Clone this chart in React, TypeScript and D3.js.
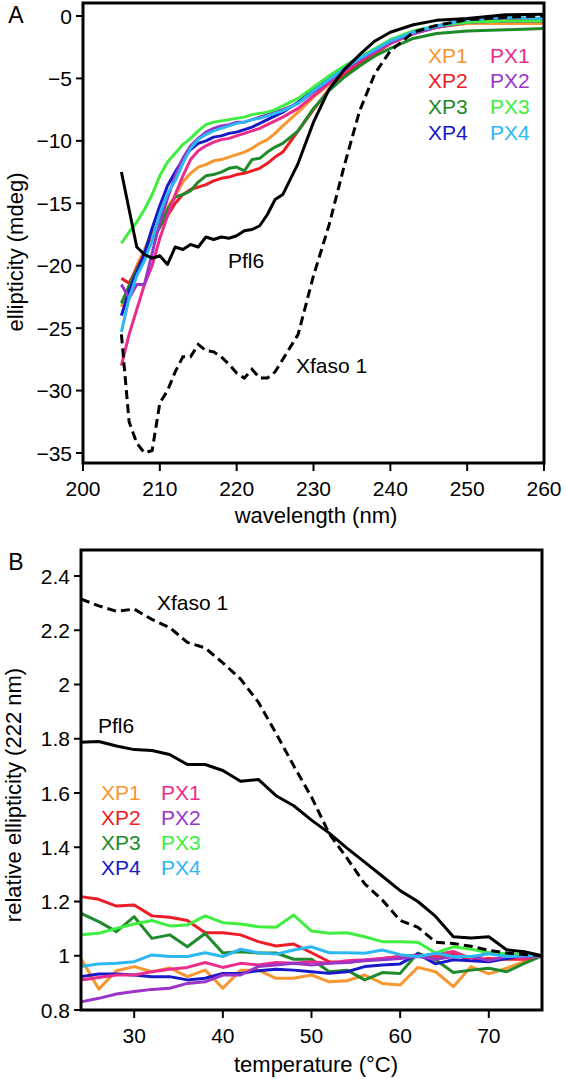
import React from "react";
import * as d3 from "d3";

// ---------- Panel A data: CD spectra ----------
const wavelengths = [205, 206, 207, 208, 209, 210, 211, 212, 213, 214, 215, 216, 217, 218, 219, 220, 221, 222, 223, 224, 225, 226, 228, 230, 232, 234, 236, 238, 240, 243, 246, 250, 255, 260];

const specXP1 = [-23.3, -21.8, -20.0, -18.7, -17.3, -16.3, -15.3, -14.4, -13.3, -12.6, -12.1, -11.9, -11.6, -11.5, -11.3, -11.1, -10.9, -10.6, -10.2, -9.9, -9.4, -8.8, -7.7, -6.5, -5.5, -4.6, -3.7, -2.9, -2.2, -1.4, -0.9, -0.6, -0.6, -0.6];
const specXP2 = [-21.0, -21.4, -20.2, -19.0, -17.9, -16.9, -16.0, -15.0, -14.3, -13.9, -13.7, -13.5, -13.2, -13.0, -12.9, -12.7, -12.6, -12.4, -12.2, -11.8, -11.3, -10.9, -9.2, -7.5, -5.9, -4.7, -3.8, -3.0, -2.2, -1.4, -0.9, -0.5, -0.4, -0.4];
const specXP3 = [-23.0, -21.6, -20.3, -19.2, -18.0, -16.9, -15.5, -14.5, -14.3, -14.0, -13.3, -12.8, -12.7, -12.5, -12.2, -12.1, -12.4, -11.5, -11.4, -10.9, -10.5, -10.2, -9.2, -7.4, -6.0, -4.9, -4.0, -3.2, -2.6, -1.8, -1.4, -1.2, -1.1, -1.0];
const specXP4 = [-24.0, -22.0, -20.5, -19.0, -17.0, -15.2, -13.6, -12.5, -11.5, -10.7, -10.2, -10.0, -9.7, -9.6, -9.4, -9.3, -9.1, -8.9, -8.6, -8.3, -8.0, -7.7, -6.9, -5.9, -5.0, -4.1, -3.3, -2.7, -2.0, -1.3, -0.8, -0.4, -0.2, -0.2];
const specPX1 = [-28.0, -25.5, -23.5, -21.5, -20.0, -17.8, -16.0, -14.3, -12.8, -11.5, -10.8, -10.4, -10.1, -9.9, -9.8, -9.6, -9.4, -9.2, -9.0, -8.7, -8.4, -8.1, -7.4, -6.4, -5.4, -4.5, -3.6, -2.9, -2.2, -1.4, -0.9, -0.5, -0.4, -0.4];
const specPX2 = [-21.5, -22.6, -21.5, -21.5, -19.0, -16.5, -14.6, -12.8, -11.4, -10.4, -9.8, -9.3, -9.0, -8.8, -8.7, -8.5, -8.5, -8.3, -8.1, -7.9, -7.7, -7.5, -7.0, -6.1, -5.2, -4.3, -3.5, -2.8, -2.1, -1.4, -0.9, -0.5, -0.4, -0.4];
const specPX3 = [-18.2, -17.3, -16.5, -15.5, -14.3, -12.8, -11.7, -11.0, -10.3, -9.8, -9.2, -8.7, -8.5, -8.4, -8.3, -8.2, -8.1, -7.9, -7.8, -7.7, -7.5, -7.2, -6.6, -5.7, -4.8, -4.0, -3.3, -2.6, -1.9, -1.2, -0.8, -0.5, -0.4, -0.4];
const specPX4 = [-25.3, -22.6, -20.8, -19.6, -18.0, -15.8, -14.2, -13.2, -11.8, -10.6, -9.9, -9.5, -9.2, -9.0, -8.8, -8.6, -8.5, -8.3, -8.2, -8.0, -7.8, -7.6, -7.0, -6.0, -5.1, -4.2, -3.4, -2.7, -2.0, -1.3, -0.8, -0.3, -0.1, -0.2];
const specPfl6 = [-12.5, -15.5, -18.5, -19.1, -19.4, -19.2, -19.9, -18.5, -18.7, -18.3, -18.5, -17.7, -17.9, -17.7, -17.8, -17.6, -17.2, -17.1, -16.8, -15.9, -14.7, -14.3, -11.8, -8.5, -5.9, -4.3, -3.1, -2.0, -1.3, -0.7, -0.35, -0.2, 0.1, 0.15];
const specXfaso1 = [-25.5, -32.5, -34.2, -35.0, -34.8, -31.0, -30.0, -28.5, -27.3, -27.3, -26.3, -26.8, -26.9, -27.3, -27.9, -28.6, -29.0, -28.3, -29.0, -29.0, -28.5, -27.5, -25.5, -20.8, -16.8, -12.0, -7.6, -4.6, -2.8, -1.3, -0.75, -0.3, -0.1, 0.0];

const wavelengthTicks = [200, 210, 220, 230, 240, 250, 260];
const ellipticityTicks = [0, -5, -10, -15, -20, -25, -30, -35];

// ---------- Panel B data: thermal melts ----------
const temperatures = [24, 26, 28, 30, 32, 34, 36, 38, 40, 42, 44, 46, 48, 50, 52, 54, 56, 58, 60, 62, 64, 66, 68, 70, 72, 74, 76];

const meltXP1 = [0.99, 0.877, 0.945, 0.96, 0.941, 0.955, 0.923, 0.947, 0.88, 0.947, 0.947, 0.917, 0.917, 0.929, 0.904, 0.908, 0.929, 0.898, 0.892, 0.957, 0.941, 0.886, 0.96, 0.933, 0.954, 0.978, 1.0];
const meltXP2 = [1.218, 1.208, 1.183, 1.187, 1.147, 1.142, 1.13, 1.085, 1.085, 1.077, 1.052, 1.036, 1.043, 1.011, 0.978, 0.975, 0.982, 0.99, 0.997, 1.003, 0.997, 1.006, 0.984, 0.99, 0.987, 0.987, 1.0];
const meltXP3 = [1.156, 1.126, 1.089, 1.144, 1.064, 1.077, 1.033, 1.082, 1.01, 1.015, 1.01, 1.01, 0.987, 0.987, 0.941, 0.947, 0.911, 0.938, 0.935, 1.01, 0.985, 0.938, 0.947, 0.954, 0.941, 0.972, 1.0];
const meltXP4 = [0.923, 0.933, 0.933, 0.929, 0.923, 0.923, 0.911, 0.917, 0.935, 0.935, 0.945, 0.95, 0.947, 0.941, 0.935, 0.941, 0.96, 0.966, 0.97, 1.007, 0.97, 0.985, 0.982, 0.978, 0.99, 0.997, 1.0];
const meltPX1 = [0.911, 0.92, 0.929, 0.929, 0.941, 0.95, 0.957, 0.975, 0.957, 0.972, 0.966, 0.975, 0.972, 0.978, 0.972, 0.982, 0.985, 0.99, 0.997, 1.0, 1.004, 1.016, 0.99, 1.01, 1.0, 0.99, 1.0];
const meltPX2 = [0.83, 0.843, 0.859, 0.868, 0.876, 0.88, 0.898, 0.904, 0.929, 0.929, 0.96, 0.966, 0.972, 0.966, 0.972, 0.975, 0.982, 0.985, 0.99, 0.997, 0.987, 0.997, 0.997, 0.982, 0.997, 0.997, 1.0];
const meltPX3 = [1.077, 1.083, 1.101, 1.117, 1.13, 1.11, 1.113, 1.147, 1.122, 1.117, 1.107, 1.105, 1.15, 1.091, 1.083, 1.085, 1.07, 1.052, 1.052, 1.05, 1.01, 1.033, 1.024, 1.012, 1.007, 1.004, 1.0];
const meltPX4 = [0.96, 0.97, 0.972, 0.978, 1.003, 0.997, 0.997, 1.011, 0.997, 1.024, 1.011, 1.006, 1.021, 1.033, 1.011, 1.011, 1.009, 1.021, 1.004, 0.997, 1.009, 0.997, 0.997, 1.007, 0.997, 1.0, 1.0];
const meltPfl6 = [1.787, 1.79, 1.773, 1.76, 1.757, 1.742, 1.705, 1.705, 1.683, 1.643, 1.65, 1.59, 1.553, 1.5, 1.452, 1.397, 1.345, 1.293, 1.24, 1.2, 1.145, 1.07, 1.065, 1.07, 1.022, 1.015, 1.0];
const meltXfaso1 = [2.315, 2.29, 2.27, 2.278, 2.24, 2.21, 2.155, 2.135, 2.08, 2.02, 1.935, 1.82, 1.7, 1.585, 1.45, 1.36, 1.265, 1.205, 1.13, 1.105, 1.05, 1.045, 1.035, 1.02, 1.01, 1.005, 1.0];

const temperatureTicks = [30, 40, 50, 60, 70];
const relEllipticityTicks = [0.8, 1, 1.2, 1.4, 1.6, 1.8, 2, 2.2, 2.4];

// ---------- series ----------
const seriesNames = ["XP1", "XP2", "XP3", "XP4", "PX1", "PX2", "PX3", "PX4"];
const seriesColors = ["#f8962f", "#ee1c25", "#1e8a2a", "#1818c8", "#ec2c8c", "#9a35c8", "#3fee3f", "#2cb8f2"];
const specSeries = [specXP1, specXP2, specXP3, specXP4, specPX1, specPX2, specPX3, specPX4];
const meltSeries = [meltXP1, meltXP2, meltXP3, meltXP4, meltPX1, meltPX2, meltPX3, meltPX4];

const FONT = "'Liberation Sans', Arial, Helvetica, sans-serif";

function fmtNeg(v: number) {
  return v < 0 ? "\u2212" + Math.abs(v) : String(v);
}

type PanelProps = {
  left: number; right: number; top: number; bottom: number;
  xDomain: [number, number]; yDomain: [number, number]; yRange: [number, number];
  xs: number[]; series: number[][]; pfl6: number[]; xfaso: number[];
  xTicks: number[]; yTicks: number[]; yFmt: (v: number) => string;
  xTitle: string; yTitle: string; xTitleX: number; xTitleY: number; yTitleX: number; yTitleY: number;
  panel: string; panelX: number; panelY: number;
  legX1: number; legX2: number; legY: number; legDy: number;
  pflX: number; pflY: number; xfX: number; xfY: number;
};

function Panel(p: PanelProps) {
  const x = d3.scaleLinear().domain(p.xDomain).range([p.left, p.right]);
  const y = d3.scaleLinear().domain(p.yDomain).range(p.yRange);
  const line = d3.line<number>().x((_, i) => x(p.xs[i])).y((d) => y(d));
  return (
    <g>
      {p.series.map((s, i) => (
        <path key={i} d={line(s) || ""} fill="none" stroke={seriesColors[i]} strokeWidth={3} strokeLinejoin="round" />
      ))}
      <path d={line(p.pfl6) || ""} fill="none" stroke="#000" strokeWidth={3} strokeLinejoin="round" />
      <path d={line(p.xfaso) || ""} fill="none" stroke="#000" strokeWidth={3} strokeDasharray="9,5" />
      <rect x={p.left} y={p.top} width={p.right - p.left} height={p.bottom - p.top} fill="none" stroke="#000" strokeWidth={3} />
      {p.xTicks.map((t) => (
        <g key={"x" + t}>
          <line x1={x(t)} x2={x(t)} y1={p.bottom} y2={p.bottom + 8} stroke="#000" strokeWidth={2} />
          <text x={x(t)} y={p.bottom + 25} textAnchor="middle" dominantBaseline="central" fontSize={21}>{t}</text>
        </g>
      ))}
      {p.yTicks.map((t) => (
        <g key={"y" + t}>
          <line x1={p.left - 7} x2={p.left} y1={y(t)} y2={y(t)} stroke="#000" strokeWidth={2} />
          <text x={p.left - 11} y={y(t)} textAnchor="end" dominantBaseline="central" fontSize={21}>{p.yFmt(t)}</text>
        </g>
      ))}
      <text x={p.xTitleX} y={p.xTitleY} textAnchor="middle" dominantBaseline="central" fontSize={22}>{p.xTitle}</text>
      <text transform={`translate(${p.yTitleX},${p.yTitleY}) rotate(-90)`} textAnchor="middle" dominantBaseline="central" fontSize={22}>{p.yTitle}</text>
      <text x={p.panelX} y={p.panelY} textAnchor="middle" dominantBaseline="central" fontSize={23}>{p.panel}</text>
      {seriesNames.map((n, i) => (
        <text key={n} x={i < 4 ? p.legX1 : p.legX2} y={p.legY + (i % 4) * p.legDy} dominantBaseline="central" fontSize={21} fill={seriesColors[i]}>{n}</text>
      ))}
      <text x={p.pflX} y={p.pflY} dominantBaseline="central" fontSize={21}>Pfl6</text>
      <text x={p.xfX} y={p.xfY} dominantBaseline="central" fontSize={21}>Xfaso 1</text>
    </g>
  );
}

export default function App() {
  return (
    <svg width={566} height={1079} style={{ position: "absolute", left: 0, top: 0, background: "#fff" }} fontFamily={FONT}>
      <Panel
        left={83} right={544} top={3} bottom={463}
        xDomain={[200, 260]} yDomain={[-35, 0]} yRange={[453, 16]}
        xs={wavelengths} series={specSeries} pfl6={specPfl6} xfaso={specXfaso1}
        xTicks={wavelengthTicks} yTicks={ellipticityTicks} yFmt={fmtNeg}
        xTitle="wavelength (nm)" yTitle="ellipticity (mdeg)"
        xTitleX={316} xTitleY={515} yTitleX={15} yTitleY={252}
        panel="A" panelX={16} panelY={15}
        legX1={428} legX2={490} legY={55} legDy={25.8}
        pflX={228} pflY={260} xfX={296} xfY={365}
      />
      <Panel
        left={81} right={542} top={550} bottom={1010}
        xDomain={[24, 76]} yDomain={[0.8, 2.4]} yRange={[1010, 576]}
        xs={temperatures} series={meltSeries} pfl6={meltPfl6} xfaso={meltXfaso1}
        xTicks={temperatureTicks} yTicks={relEllipticityTicks} yFmt={(v) => String(v)}
        xTitle="temperature (°C)" yTitle="relative ellipticity (222 nm)"
        xTitleX={316} xTitleY={1064} yTitleX={13} yTitleY={795}
        panel="B" panelX={16} panelY={562}
        legX1={101} legX2={161} legY={792} legDy={25}
        pflX={98} pflY={725} xfX={157} xfY={602}
      />
    </svg>
  );
}
